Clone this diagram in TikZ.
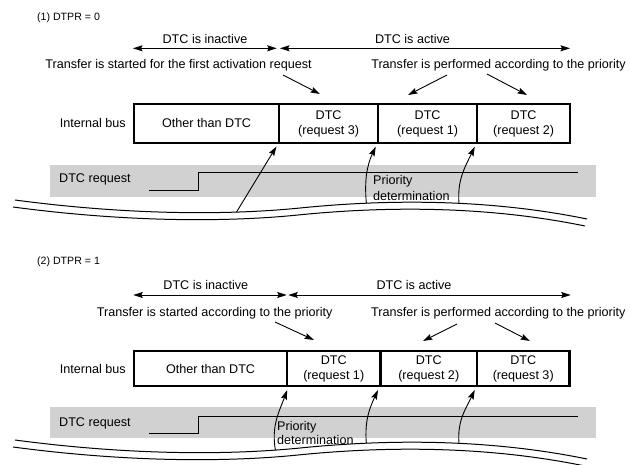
\documentclass[tikz,border=0pt]{standalone}
\usepackage{fontspec}
\setmainfont{Liberation Sans}
\usetikzlibrary{arrows.meta,positioning}
\definecolor{bandgray}{gray}{0.82}

\begin{document}
\begin{tikzpicture}[x=1pt, y=-1pt,
    every node/.style={inner sep=0pt, font=\fontsize{12.6}{15}\selectfont},
    >={Stealth[length=9.5pt, width=6pt, inset=1.5pt]},
    arr/.style={->, line width=0.9pt},
    span/.style={<->, line width=0.9pt},
    cell/.style={draw, line width=2.2pt, anchor=north west, align=center, minimum height=38.7pt},
    wave/.style={line width=1pt},
    head/.style={anchor=base west, font=\fontsize{10.6}{12}\selectfont}]
  \useasboundingbox (0,0) rectangle (630,464);

  \node[head] (p1head) at (37,20.7) {(1) DTPR = 0};
  \path (133,48.3) coordinate (p1ia) (276.7,48.3) coordinate (p1ib)
        (280,48.3) coordinate (p1aa) (570,48.3) coordinate (p1ab);
  \draw[span] (p1ia) -- (p1ib);
  \draw[span] (p1aa) -- (p1ab);
  \node[anchor=base] (p1inact) at (205,43) {DTC is inactive};
  \node[anchor=base] (p1act) at (412.5,43) {DTC is active};
  \node[anchor=base] (p1start) at (178.5,68.3) {Transfer is started for the first activation request};
  \node[anchor=base] (p1prio) at (498.5,68.3) {Transfer is performed according to the priority};
  \path (283,75) coordinate (p1s1) (320,94) coordinate (p1e1)
        (447,75) coordinate (p1s2) (408,95) coordinate (p1e2)
        (487,74) coordinate (p1s3) (527,95) coordinate (p1e3);
  \draw[arr] (p1s1) -- (p1e1);
  \draw[arr] (p1s2) -- (p1e2);
  \draw[arr] (p1s3) -- (p1e3);

  \node[cell, minimum width=145pt] (p1oth) at (133,103) {Other than DTC};
  \node[cell, minimum width=99pt] (p1r3) at (278,103) {DTC\\(request 3)};
  \node[cell, minimum width=99pt] (p1r1) at (377,103) {DTC\\(request 1)};
  \node[cell, minimum width=93pt] (p1r2) at (476,103) {DTC\\(request 2)};
  \node[left=7pt of p1oth] (p1bus) {Internal bus};

  \fill[bandgray] (50,165) rectangle (596,196.7);
  \node[anchor=base west] (p1req) at (59,182.7) {DTC request};
  \draw[line width=0.9pt] (149,190) -- (198.3,190) -- (198.3,172.7) -- (577.7,172.7);
  \node[anchor=base west] (p1pri) at (373,184.3) {Priority};
  \node[anchor=base west] (p1det) at (373,200) {determination};

  \draw[wave] (15,200) .. controls (120,214) and (220,216) .. (300,208) coordinate[pos=0.75] (p1w)
    .. controls (360,202) and (470,195) .. (587,219) coordinate[pos=0.3] (p1c1) coordinate[pos=0.62] (p1c2);
  \draw[wave] (13,207) .. controls (118,221) and (218,223) .. (298,215)
    .. controls (358,209) and (468,202) .. (585,226);
  \draw[arr, shorten >=3pt] (p1w) -- (p1r3.south west);
  \draw[arr, shorten >=3pt] (p1c1) to[out=95, in=-115] (p1r1.south west);
  \draw[arr, shorten >=3pt] (p1c2) to[out=95, in=-115] (p1r2.south west);

  \node[head] (p2head) at (37,264) {(2) DTPR = 1};
  \path (133.3,295) coordinate (p2ia) (286.7,295) coordinate (p2ib)
        (288.3,295) coordinate (p2aa) (570.7,295) coordinate (p2ab);
  \draw[span] (p2ia) -- (p2ib);
  \draw[span] (p2aa) -- (p2ab);
  \node[anchor=base] (p2inact) at (205.8,289.3) {DTC is inactive};
  \node[anchor=base] (p2act) at (414,289.3) {DTC is active};
  \node[anchor=base] (p2start) at (214.7,316.7) {Transfer is started according to the priority};
  \node[anchor=base] (p2prio) at (498.3,316.7) {Transfer is performed according to the priority};
  \path (275,322) coordinate (p2s1) (314,340) coordinate (p2e1)
        (457,324) coordinate (p2s2) (423,341) coordinate (p2e2)
        (495,323) coordinate (p2s3) (530,341) coordinate (p2e3);
  \draw[arr] (p2s1) -- (p2e1);
  \draw[arr] (p2s2) -- (p2e2);
  \draw[arr] (p2s3) -- (p2e3);

  \node[cell, minimum width=153pt, minimum height=35pt] (p2oth) at (133,350) {Other than DTC};
  \node[cell, minimum width=93.3pt, minimum height=35pt] (p2r1) at (286,350) {DTC\\(request 1)};
  \node[cell, minimum width=96.7pt, minimum height=35pt] (p2r2) at (379.3,350) {DTC\\(request 2)};
  \node[cell, minimum width=92.3pt, minimum height=35pt] (p2r3) at (476,350) {DTC\\(request 3)};
  \node[left=7pt of p2oth] (p2bus) {Internal bus};

  \fill[bandgray] (50,407.3) rectangle (596,438.3);
  \node[anchor=base west] (p2req) at (59,426) {DTC request};
  \draw[line width=0.9pt] (149,433.3) -- (198.3,433.3) -- (198.3,416) -- (577.7,416);
  \node[anchor=base west] (p2pri) at (277,430) {Priority};
  \node[anchor=base west] (p2det) at (277,444) {determination};

  \draw[wave] (15,440) .. controls (120,454) and (220,456) .. (300,448) coordinate[pos=0.9] (p2w)
    .. controls (360,442) and (470,435) .. (587,459) coordinate[pos=0.3] (p2c1) coordinate[pos=0.62] (p2c2);
  \draw[wave] (13,447) .. controls (118,461) and (218,463) .. (298,455)
    .. controls (358,449) and (468,442) .. (585,466);
  \draw[arr, shorten >=3pt] (p2w) to[out=100, in=-110] (p2oth.south east);
  \draw[arr, shorten >=3pt] (p2c1) to[out=95, in=-115] (p2r2.south west);
  \draw[arr, shorten >=3pt] (p2c2) to[out=95, in=-115] (p2r3.south west);
\end{tikzpicture}
\end{document}
